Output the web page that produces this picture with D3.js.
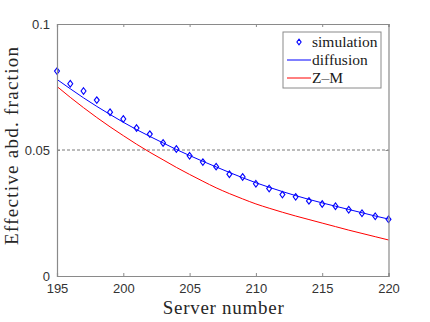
<!DOCTYPE html>
<html>
<head>
<meta charset="utf-8">
<script src="https://cdn.jsdelivr.net/npm/d3@7"></script>
<style>
  html, body { margin: 0; padding: 0; background: #fff; }
  svg { display: block; }
</style>
</head>
<body>
<div id="chart"></div>
<script>
// --- DATA ---
const servers = [195, 196, 197, 198, 199, 200, 201, 202, 203, 204, 205, 206, 207,
                 208, 209, 210, 211, 212, 213, 214, 215, 216, 217, 218, 219, 220];
const simulation = [0.0813, 0.0763, 0.0734, 0.0698, 0.0650, 0.0623, 0.0587, 0.0563, 0.0528,
                    0.0504, 0.0477, 0.0452, 0.0434, 0.0404, 0.0393, 0.0366, 0.0347, 0.0323,
                    0.0314, 0.0298, 0.0286, 0.0277, 0.0263, 0.0249, 0.0237, 0.0225];
const diffusion = [0.0780, 0.0743, 0.0707, 0.0673, 0.0641, 0.0610, 0.0581, 0.0554, 0.0528,
                   0.0502, 0.0478, 0.0455, 0.0433, 0.0411, 0.0390, 0.0370, 0.0352, 0.0335,
                   0.0319, 0.0304, 0.0290, 0.0277, 0.0264, 0.0251, 0.0238, 0.0226];
const zm = [0.0752, 0.0709, 0.0668, 0.0629, 0.0592, 0.0557, 0.0523, 0.0491, 0.0461,
            0.0431, 0.0403, 0.0376, 0.0350, 0.0327, 0.0306, 0.0286, 0.0269, 0.0253,
            0.0238, 0.0224, 0.0210, 0.0196, 0.0182, 0.0169, 0.0156, 0.0143];
const xTicks = [195, 200, 205, 210, 215, 220];
const yTicks = [0, 0.05, 0.1];
const yTickLabels = ["0", "0.05", "0.1"];
const refLine = 0.05;

// --- SETUP ---
const width = 430, height = 322;
const margin = { top: 24, right: 41.5, bottom: 46, left: 57 };
const axisColor = "#8a8a8a";
const serif = "'Liberation Serif', 'Times New Roman', serif";
const sans = "'Liberation Sans', Arial, sans-serif";

const svg = d3.select("#chart").append("svg")
    .attr("width", width)
    .attr("height", height);

svg.append("rect").attr("width", width).attr("height", height).attr("fill", "#fff");

const x = d3.scaleLinear().domain([195, 220]).range([margin.left, width - margin.right]);
const y = d3.scaleLinear().domain([0, 0.1]).range([height - margin.bottom, margin.top]);

const pts = servers.map((s, i) => ({ s, sim: simulation[i], dif: diffusion[i], zm: zm[i] }));

// reference dashed line
svg.append("line")
    .attr("x1", x(195)).attr("x2", x(220))
    .attr("y1", y(refLine)).attr("y2", y(refLine))
    .attr("stroke", "#555").attr("stroke-width", 0.8)
    .attr("stroke-dasharray", "3,2");

// --- LINES ---
const lineGen = key => d3.line().x(d => x(d.s)).y(d => y(d[key])).curve(d3.curveMonotoneX);

svg.append("path").datum(pts)
    .attr("d", lineGen("zm"))
    .attr("fill", "none").attr("stroke", "#ff0000").attr("stroke-width", 1);

svg.append("path").datum(pts)
    .attr("d", lineGen("dif"))
    .attr("fill", "none").attr("stroke", "#0000ff").attr("stroke-width", 1);

// diamond markers
const diamond = (cx, cy, r) => `M${cx},${cy - r}L${cx + r * 0.75},${cy}L${cx},${cy + r}L${cx - r * 0.75},${cy}Z`;
svg.append("g").selectAll("path")
    .data(pts)
    .join("path")
    .attr("d", d => diamond(x(d.s), y(d.sim), 3.3))
    .attr("fill", "none").attr("stroke", "#0000ff").attr("stroke-width", 1.1);

// --- AXES (box with inward ticks) ---
const xB = svg.append("g").attr("transform", `translate(0,${y(0)})`)
    .call(d3.axisBottom(x).tickValues(xTicks).tickSize(-3).tickPadding(8).tickFormat(d3.format("d")));
const xT = svg.append("g").attr("transform", `translate(0,${y(0.1)})`)
    .call(d3.axisTop(x).tickValues(xTicks).tickSize(-3).tickFormat(""));
const yL = svg.append("g").attr("transform", `translate(${x(195)},0)`)
    .call(d3.axisLeft(y).tickValues(yTicks).tickSize(-3).tickPadding(7).tickFormat((d, i) => yTickLabels[i]));
const yR = svg.append("g").attr("transform", `translate(${x(220)},0)`)
    .call(d3.axisRight(y).tickValues(yTicks).tickSize(-3).tickFormat(""));

[xB, xT, yL, yR].forEach(g => {
    g.select(".domain").attr("stroke", axisColor).attr("stroke-width", 1.2);
    g.selectAll(".tick line").attr("stroke", axisColor);
    g.selectAll(".tick text").attr("fill", "#333").attr("font-family", sans).attr("font-size", "13px");
});

// --- AXIS LABELS ---
svg.append("text")
    .attr("x", (x(195) + x(220)) / 2 + 0.5)
    .attr("y", 314)
    .attr("text-anchor", "middle")
    .attr("font-family", serif).attr("font-size", "19px").attr("fill", "#262626")
    .attr("textLength", 121).attr("lengthAdjust", "spacing")
    .text("Server number");

svg.append("text")
    .attr("transform", `translate(18,${(y(0) + y(0.1)) / 2 - 4}) rotate(-90)`)
    .attr("text-anchor", "middle")
    .attr("font-family", serif).attr("font-size", "19px").attr("fill", "#262626")
    .attr("textLength", 198).attr("lengthAdjust", "spacing")
    .text("Effective abd. fraction");

// --- LEGEND ---
const legend = svg.append("g").attr("transform", "translate(283,32)");
legend.append("rect")
    .attr("width", 98).attr("height", 56)
    .attr("fill", "#fff").attr("stroke", axisColor).attr("stroke-width", 1);

const entries = [
    { label: "simulation", type: "marker", color: "#0000ff" },
    { label: "diffusion", type: "line", color: "#0000ff" },
    { label: "Z\u2013M", type: "line", color: "#ff0000" }
];
entries.forEach((e, i) => {
    const cy = 10 + i * 18;
    if (e.type === "marker") {
        legend.append("path").attr("d", diamond(16, cy, 2.8))
            .attr("fill", "none").attr("stroke", e.color).attr("stroke-width", 1.1);
    } else {
        legend.append("line").attr("x1", 4).attr("x2", 28).attr("y1", cy).attr("y2", cy)
            .attr("stroke", e.color).attr("stroke-width", 1);
    }
    legend.append("text")
        .attr("x", 29).attr("y", cy + 4.5)
        .attr("font-family", serif).attr("font-size", "15.5px").attr("fill", "#1a1a1a")
        .text(e.label);
});
</script>
</body>
</html>
